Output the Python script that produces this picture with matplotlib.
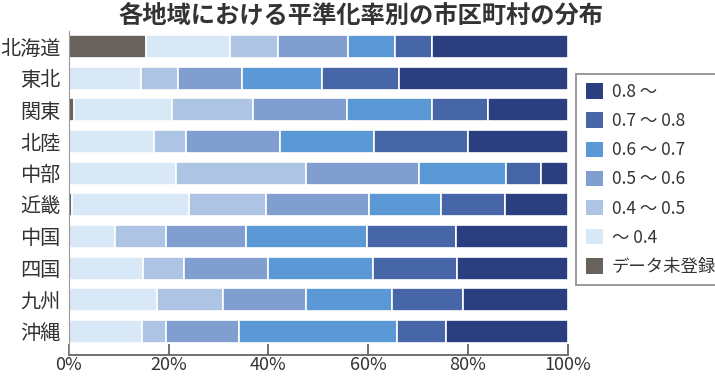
import matplotlib
matplotlib.use("Agg")
import matplotlib.pyplot as plt
import numpy as np
from matplotlib.patches import Patch

plt.rcParams['font.family'] = ['Noto Sans CJK JP', 'DejaVu Sans']

regions = ["北海道", "東北", "関東", "北陸", "中部", "近畿", "中国", "四国", "九州", "沖縄"]
series_labels = ["データ未登録", "〜 0.4", "0.4 〜 0.5", "0.5 〜 0.6", "0.6 〜 0.7", "0.7 〜 0.8", "0.8 〜"]
colors = ["#67625c", "#d9e8f6", "#aec4e4", "#809fd0", "#5b98d6", "#4766a8", "#2b3f80"]

no_data = [15.5, 0.0, 1.0, 0.0, 0.0, 0.6, 0.0, 0.0, 0.0, 0.0]
lt_04   = [16.8, 14.4, 19.6, 17.1, 21.4, 23.5, 9.3, 14.8, 17.6, 14.6]
r04_05  = [9.6, 7.5, 16.3, 6.3, 26.2, 15.4, 10.2, 8.2, 13.3, 4.9]
r05_06  = [14.0, 12.8, 18.9, 18.9, 22.5, 20.6, 16.0, 16.9, 16.7, 14.6]
r06_07  = [9.5, 16.0, 16.9, 18.8, 17.5, 14.4, 24.3, 21.1, 17.2, 31.7]
r07_08  = [7.3, 15.4, 11.4, 18.9, 7.0, 12.9, 17.8, 16.8, 14.2, 9.8]
ge_08   = [27.3, 33.9, 15.9, 20.0, 5.4, 12.6, 22.4, 22.2, 21.0, 24.4]

series = [no_data, lt_04, r04_05, r05_06, r06_07, r07_08, ge_08]

fig = plt.figure(figsize=(7.15, 3.77), dpi=100)
ax = fig.add_axes([0.0965, 0.0584, 0.6975, 0.8602])

y = np.arange(len(regions))
left = np.zeros(len(regions))
for vals, col in zip(series, colors):
    v = np.array(vals)
    ax.barh(y, v, left=left, height=0.73, color=col, edgecolor="white", linewidth=1.2)
    left += v

ax.set_xlim(0, 100)
ax.set_ylim(9.742, -0.5)
ax.set_yticks(y)
ax.set_yticklabels(regions, fontsize=14.5, color="#333333")
ax.tick_params(axis="y", length=0, pad=6)
ax.set_xticks([0, 20, 40, 60, 80, 100])
ax.set_xticklabels(["0%", "20%", "40%", "60%", "80%", "100%"], fontsize=13, color="#333333")
ax.tick_params(axis="x", direction="in", length=8, width=1.3, color="#666666", pad=1)
for s in ["top", "right"]:
    ax.spines[s].set_visible(False)
ax.spines["bottom"].set_color("#666666")
ax.spines["bottom"].set_linewidth(1.3)
ax.spines["left"].set_color("#999999")
ax.spines["left"].set_linewidth(0.8)

fig.text(0.505, 0.958, "各地域における平準化率別の市区町村の分布", ha="center", va="center",
         fontsize=17.5, fontweight="bold", color="#333333")

handles = [Patch(facecolor=c, edgecolor="none") for c in colors[::-1]]
labels = series_labels[::-1]
leg = fig.legend(handles, labels, loc="upper left", bbox_to_anchor=(0.806, 0.805),
                 frameon=True, fancybox=False, edgecolor="#777777", fontsize=12.5,
                 handlelength=1.0, handleheight=1.0, handletextpad=0.5,
                 labelspacing=0.64, borderpad=0.55, borderaxespad=0)
leg.get_frame().set_linewidth(1.3)
for t in leg.get_texts():
    t.set_color("#333333")

fig.savefig("out.png", dpi=100)
